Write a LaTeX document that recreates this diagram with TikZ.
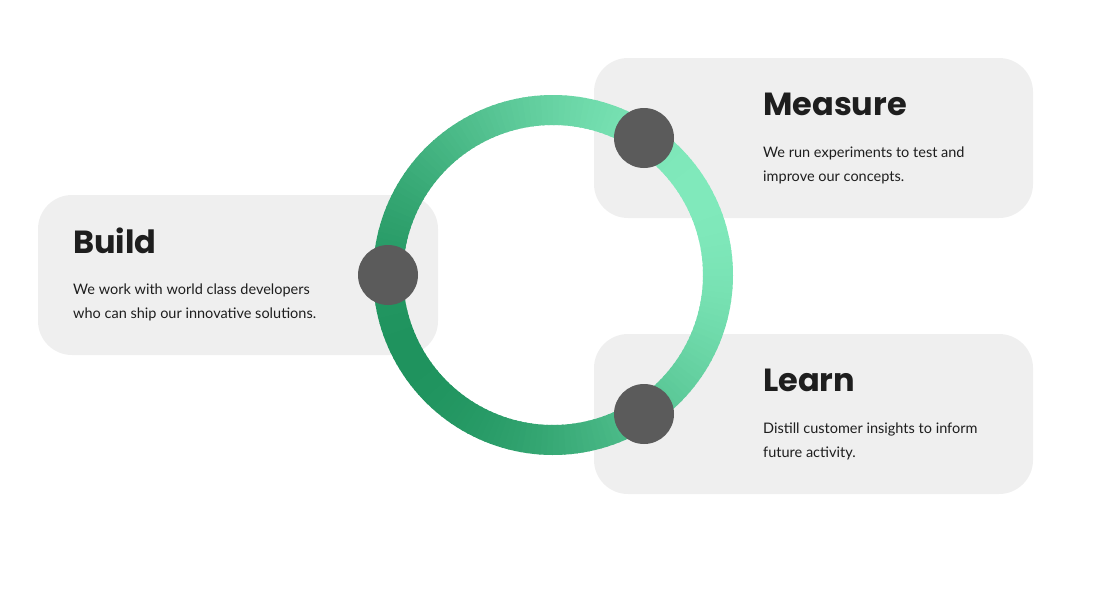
\documentclass[tikz,border=0pt]{standalone}
\usetikzlibrary{calc}
\usepackage{fontspec}
\setmainfont{Lato}
\newfontfamily\titlefont{Poppins}
\definecolor{boxgray}{HTML}{EFEFEF}
\definecolor{dotgray}{HTML}{5B5B5B}
\definecolor{gdark}{HTML}{1F935E}
\definecolor{glight}{HTML}{80E9BB}
\definecolor{txt}{HTML}{1E1E1E}
\tikzset{
  card/.style={fill=boxgray, rounded corners=34pt, draw=none},
  dot/.style={circle, fill=dotgray, minimum size=60pt, inner sep=0pt},
  ttl/.style={anchor=west, font=\titlefont\bfseries\fontsize{32}{36}\selectfont, text=txt, inner sep=0pt},
  body/.style={anchor=north west, align=left, font=\fontsize{14.5}{24}\selectfont, text=txt, inner sep=0pt}
}
\begin{document}
\begin{tikzpicture}[x=1pt,y=-1pt]
\useasboundingbox (0,0) rectangle (1110,600);
\fill[card] (38,195) rectangle (438,355);
\fill[card] (594,58) rectangle (1033,218);
\fill[card] (594,334) rectangle (1033,494);
\coordinate (c) at (553,275);
\foreach \a in {0,2,...,358}{
  \pgfmathsetmacro\t{100*(1+cos(\a+30))/2}
  \draw[line width=30pt, draw=glight!\t!gdark] ($(c)+(\a:165)$) arc[start angle=\a, end angle=\a+2.6, radius=165];
}
\node[dot] (b) at (388,275) {};
\node[dot] (m) at (644,138) {};
\node[dot] (l) at (644,414) {};
\node[ttl] (bt) at (73,241) {Build};
\node[body] (bb) at (73,284) {We work with world class developers\\who can ship our innovative solutions.};
\node[ttl] (mt) at (763,104) {Measure};
\node[body] (mb) at (763,147) {We run experiments to test and\\improve our concepts.};
\node[ttl] (lt) at (763,380) {Learn};
\node[body] (lb) at (763,423) {Distill customer insights to inform\\future activity.};
\end{tikzpicture}
\end{document}
